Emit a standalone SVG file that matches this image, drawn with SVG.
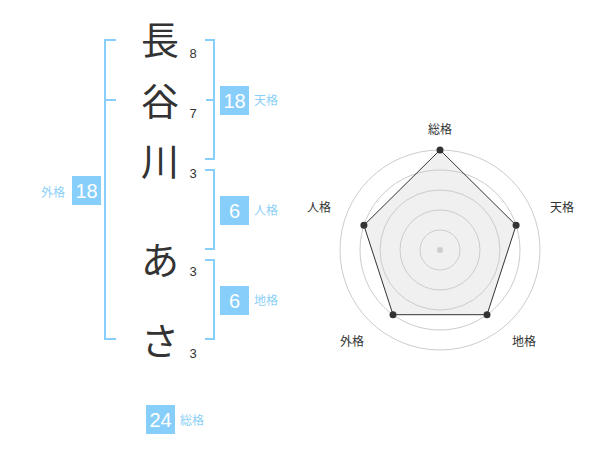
<svg xmlns="http://www.w3.org/2000/svg" width="600" height="470" viewBox="0 0 600 470">
<style>
.big{font-family:"Noto Sans CJK JP","Liberation Sans",sans-serif;font-size:38px;fill:#333;text-anchor:middle}
.num{font-family:"Liberation Sans",sans-serif;font-size:13px;fill:#333;text-anchor:middle}
.lbl{font-family:"Noto Sans CJK JP","Liberation Sans",sans-serif;font-size:12px;fill:#8ccff7}
.box{fill:#87cefa}
.bt{font-family:"Liberation Sans",sans-serif;font-size:20px;fill:#fff;text-anchor:middle}
.br{fill:none;stroke:#87cefa;stroke-width:2}
.ring{fill:none;stroke:#ccc;stroke-width:1}
.rl{font-family:"Noto Sans CJK JP","Liberation Sans",sans-serif;font-size:12px;fill:#333;text-anchor:middle}
</style>
<rect width="600" height="470" fill="#fff"/>
<g id="chars">
<text class="big" x="160" y="54">長</text>
<text class="big" x="160" y="115">谷</text>
<text class="big" x="160" y="175">川</text>
<text class="big" x="160" y="274">あ</text>
<text class="big" x="160" y="355">さ</text>
<text class="num" x="193" y="58">8</text>
<text class="num" x="193" y="118">7</text>
<text class="num" x="193" y="178">3</text>
<text class="num" x="193" y="276">3</text>
<text class="num" x="193" y="358">3</text>
</g>
<g id="connectors">
<path class="br" d="M116,40 H105 V339 H116 M105,100 H116"/>
<path class="br" d="M205,40 H214 V159 H205 M214,100 H206"/>
<path class="br" d="M205,170 H214 V249 H205"/>
<path class="br" d="M205,260 H214 V339 H205"/>
</g>
<g id="gaikaku">
<rect class="box" x="72" y="176" width="29" height="29"/>
<text class="bt" x="86.5" y="198">18</text>
<text class="lbl" x="41" y="197">外格</text>
</g>
<g id="tenkaku">
<rect class="box" x="220" y="86" width="29" height="29"/>
<text class="bt" x="234.5" y="108">18</text>
<text class="lbl" x="254" y="105">天格</text>
</g>
<g id="jinkaku">
<rect class="box" x="220" y="196" width="29" height="29"/>
<text class="bt" x="234.5" y="218">6</text>
<text class="lbl" x="254" y="215">人格</text>
</g>
<g id="chikaku">
<rect class="box" x="220" y="286" width="29" height="29"/>
<text class="bt" x="234.5" y="308">6</text>
<text class="lbl" x="254" y="305">地格</text>
</g>
<g id="soukaku">
<rect class="box" x="146" y="405" width="29" height="29"/>
<text class="bt" x="160.5" y="427">24</text>
<text class="lbl" x="180" y="425">総格</text>
</g>
<g id="radar">
<polygon points="440,150 516.1,225.3 487,314.7 393,314.7 363.9,225.3" fill="#f0f0f0" stroke="none"/>
<circle class="ring" cx="440" cy="250" r="100"/>
<circle class="ring" cx="440" cy="250" r="80"/>
<circle class="ring" cx="440" cy="250" r="60"/>
<circle class="ring" cx="440" cy="250" r="40"/>
<circle class="ring" cx="440" cy="250" r="20"/>
<circle cx="440" cy="250" r="3" fill="#ccc"/>
<polygon points="440,150 516.1,225.3 487,314.7 393,314.7 363.9,225.3" fill="none" stroke="#333" stroke-width="1"/>
<g fill="#333">
<circle cx="440" cy="150" r="3.5"/>
<circle cx="516.1" cy="225.3" r="3.5"/>
<circle cx="487" cy="314.7" r="3.5"/>
<circle cx="393" cy="314.7" r="3.5"/>
<circle cx="363.9" cy="225.3" r="3.5"/>
</g>
<text class="rl" x="440" y="134">総格</text>
<text class="rl" x="562" y="212">天格</text>
<text class="rl" x="319" y="212">人格</text>
<text class="rl" x="352" y="346">外格</text>
<text class="rl" x="524" y="346">地格</text>
</g>
</svg>
